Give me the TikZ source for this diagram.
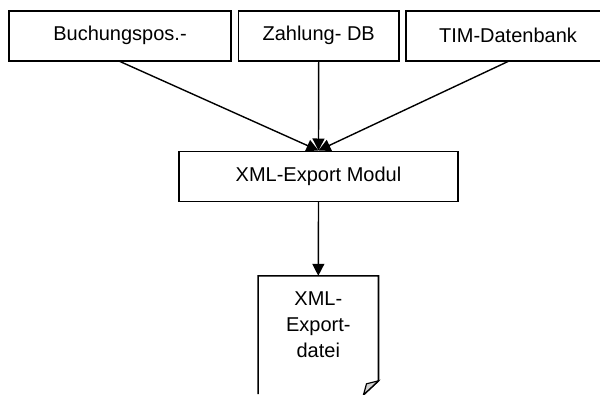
\documentclass[tikz,border=0pt]{standalone}
\usepackage{fontspec}
\setmainfont{Liberation Sans}
\usetikzlibrary{arrows.meta}

\begin{document}
\begin{tikzpicture}[x=1pt,y=-1pt,
          srcbox/.style={rectangle, draw=black, line width=1.6pt, minimum height=50pt,
            inner sep=0pt, font=\fontsize{20}{25}\selectfont},
          pagebox/.style={rectangle, draw=none, minimum width=120pt, minimum height=118pt},
          flow/.style={-{Triangle[length=12pt,width=12pt]}, line width=1.4pt}]

        \useasboundingbox (0,0) rectangle (600,394);

        \node[srcbox, minimum width=222.5pt] (buch) at (120,35.7)   {Buchungspos.-};
        \node[srcbox, minimum width=160.5pt] (zahl) at (318.7,35.7) {Zahlung- DB};
        \node[srcbox, minimum width=204pt]   (tim)  at (508,35.7)   {TIM-Datenbank};

        \node[srcbox, minimum width=278.5pt] (modul) at (318.5,176.3) {XML-Export Modul};

        \draw[flow] (buch.south) -- (modul.north);
        \draw[flow] (zahl.south) -- (modul.north);
        \draw[flow] (tim.south)  -- (modul.north);

        \node[pagebox] (datei) at (318.3,335) {};
        \node[align=center, inner sep=0pt, font=\fontsize{20}{25.8}\selectfont]
          (dateitxt) at (318.3,324.5) {XML-\\Export-\\datei};

        \draw[line width=1.6pt] (datei.south west) -- (datei.north west)
          -- (datei.north east) -- ++(0,105) -- ++(-15,14);
        \filldraw[fill=gray!35, line width=1.2pt] (datei.north east) ++(0,105)
          -- ++(-12,3) -- ++(-3,11) -- cycle;

        \draw[flow] (modul.south) -- (datei.north);

      \end{tikzpicture}
\end{document}
